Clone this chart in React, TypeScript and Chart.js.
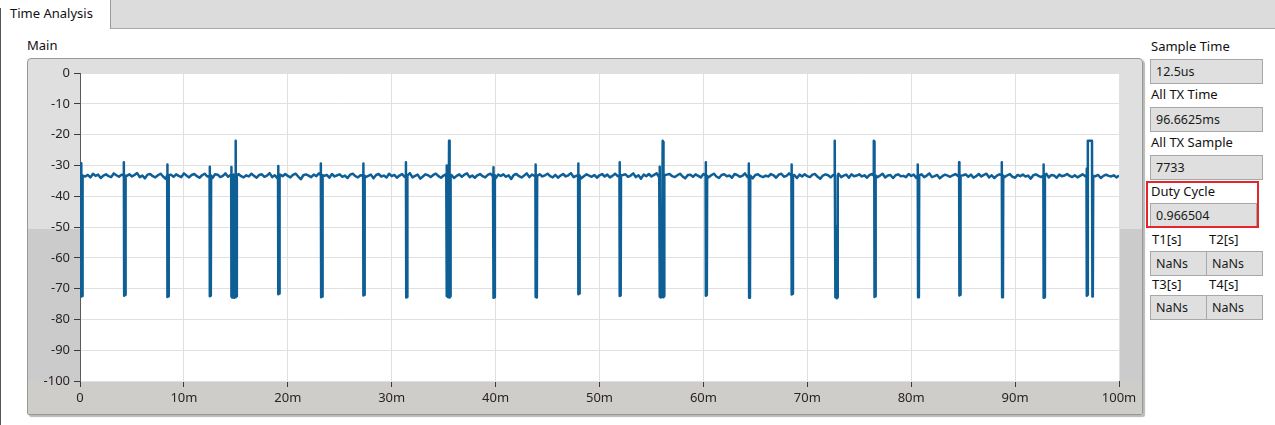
import React, { useEffect, useRef } from "react";
import { Chart, registerables } from "chart.js";

Chart.register(...registerables);

// ---- axis ticks ----
const xTickValuesMs = [0, 10, 20, 30, 40, 50, 60, 70, 80, 90, 100];
const xTickLabels = ["0", "10m", "20m", "30m", "40m", "50m", "60m", "70m", "80m", "90m", "100m"];
const yTickValues = [0, -10, -20, -30, -40, -50, -60, -70, -80, -90, -100];

// ---- baseline level (dB), one reading every 0.25 ms ----
const sampleStepMs = 0.25;
const baselineDb = [
  -33.2, -32.8, -33.6, -33.1, -33.9, -32.7, -33.4, -33.0, -34.1, -33.3, -32.9, -33.5, -33.8, -32.6, -33.2, -33.7, -33.0, -34.0, -33.4, -32.9,
  -33.6, -33.1, -32.5, -33.8, -33.3, -34.2, -33.0, -32.8, -33.5, -33.9, -33.2, -32.7, -33.6, -34.4, -33.1, -33.0, -33.7, -32.9, -33.4, -33.8,
  -32.6, -33.3, -33.9, -33.1, -32.8, -33.5, -34.0, -33.2, -32.7, -33.6, -33.3, -34.1, -32.9, -33.0, -33.8, -33.4, -32.6, -33.7, -33.1, -34.3,
  -33.0, -32.8, -33.5, -33.9, -33.2, -33.6, -32.7, -33.4, -34.0, -33.1, -32.9, -33.7, -33.3, -32.5, -33.8, -33.2, -34.2, -33.0, -33.5, -32.8,
  -33.4, -33.9, -33.1, -32.7, -33.6, -34.5, -33.2, -32.9, -33.3, -33.8, -33.0, -33.5, -32.6, -33.9, -33.4, -33.1, -34.0, -32.8, -33.6, -33.2,
  -32.9, -33.7, -33.3, -34.1, -33.0, -32.7, -33.5, -33.9, -33.2, -32.6, -33.8, -33.4, -33.0, -34.2, -33.1, -32.8, -33.6, -33.3, -33.9, -32.7,
  -33.5, -33.1, -34.0, -33.3, -32.8, -33.7, -33.2, -32.5, -33.9, -33.4, -33.0, -34.3, -33.6, -32.9, -33.2, -33.8, -33.1, -32.7, -33.5, -34.0,
  -33.3, -32.8, -33.6, -33.1, -34.1, -33.4, -32.9, -33.7, -33.0, -32.6, -33.8, -33.3, -34.0, -33.2, -32.8, -33.5, -33.9, -33.1, -32.7, -33.6,
  -34.2, -33.0, -33.4, -32.9, -33.7, -33.2, -34.4, -33.1, -32.8, -33.5, -33.9, -33.3, -32.6, -33.8, -33.0, -33.4, -34.1, -32.9, -33.6, -33.2,
  -32.7, -33.5, -33.9, -33.1, -34.0, -33.3, -32.8, -33.6, -33.2, -32.5, -33.8, -33.4, -33.0, -34.2, -33.5, -32.9, -33.3, -33.7, -33.1, -34.0,
  -33.2, -32.8, -33.6, -33.0, -33.9, -33.4, -32.7, -33.5, -34.1, -33.1, -32.9, -33.7, -33.3, -32.6, -33.8, -33.2, -34.3, -33.0, -33.5, -32.8,
  -33.6, -33.1, -32.6, -33.9, -33.3, -34.0, -33.0, -32.8, -33.5, -33.8, -33.2, -32.7, -33.6, -34.2, -33.1, -33.0, -33.7, -32.9, -33.4, -33.9,
  -32.8, -33.4, -33.9, -33.2, -32.7, -33.6, -34.1, -33.1, -32.9, -33.5, -33.3, -34.0, -32.8, -33.1, -33.7, -33.4, -32.6, -33.8, -33.0, -34.2,
  -33.1, -32.9, -33.5, -33.8, -33.3, -33.6, -32.8, -33.2, -34.0, -33.0, -32.7, -33.7, -33.4, -32.6, -33.9, -33.1, -34.1, -33.0, -33.6, -32.9,
  -33.5, -33.8, -33.0, -32.8, -33.7, -34.3, -33.3, -32.9, -33.2, -33.9, -33.1, -33.6, -32.7, -33.8, -33.3, -33.0, -34.0, -32.9, -33.5, -33.3,
  -32.9, -33.6, -33.2, -34.0, -33.1, -32.8, -33.6, -33.8, -33.3, -32.7, -33.9, -33.3, -33.1, -34.1, -33.2, -32.9, -33.5, -33.4, -33.8, -32.8,
  -33.4, -33.0, -34.1, -33.2, -32.9, -33.8, -33.3, -32.6, -33.8, -33.5, -33.1, -34.2, -33.5, -33.0, -33.3, -33.7, -33.2, -32.8, -33.4, -34.1,
  -33.2, -32.9, -33.7, -33.0, -34.0, -33.5, -32.8, -33.6, -33.1, -32.7, -33.9, -33.2, -34.1, -33.3, -32.9, -33.4, -33.8, -33.2, -32.8, -33.7,
  -34.0, -33.1, -33.5, -33.0, -33.6, -33.3, -34.3, -33.2, -32.9, -33.4, -33.8, -33.4, -32.7, -33.9, -33.1, -33.3, -34.0, -33.0, -33.5, -33.3,
  -32.8, -33.4, -33.8, -33.2, -33.9, -33.4, -32.9, -33.5, -33.3, -32.6, -33.7, -33.5, -33.1, -34.1, -33.4, -33.0, -33.4, -33.6, -33.2, -33.9,
  -33.3,
];

// ---- transmission gaps / bursts: key points (time in ms, level in dB) ----
const burstTimeMs = [
  [0.10, 0.11, 0.14, 0.22, 0.25],
  [4.21, 4.22, 4.25, 4.36, 4.39],
  [8.39, 8.40, 8.43, 8.51, 8.54],
  [12.47, 12.48, 12.51, 12.59, 12.62],
  [14.55, 14.56, 14.59, 14.66, 14.70, 14.78, 14.80, 14.84, 14.92, 14.97, 15.00, 15.03, 15.08, 15.11],
  [19.06, 19.07, 19.10, 19.18, 19.21],
  [23.17, 23.18, 23.21, 23.32, 23.35],
  [27.25, 27.26, 27.29, 27.37, 27.40],
  [31.36, 31.37, 31.40, 31.48, 31.51],
  [35.28, 35.29, 35.32, 35.38, 35.42, 35.45, 35.52, 35.56, 35.59, 35.64, 35.67],
  [39.78, 39.79, 39.82, 39.90, 39.93],
  [43.83, 43.84, 43.87, 43.97, 44.00],
  [47.94, 47.95, 47.98, 48.06, 48.09],
  [51.92, 51.93, 51.96, 52.04, 52.07],
  [55.78, 55.79, 55.82, 55.90, 55.95, 55.99, 56.08, 56.12, 56.16, 56.21, 56.24],
  [60.21, 60.22, 60.25, 60.33, 60.36],
  [64.36, 64.37, 64.40, 64.48, 64.51],
  [68.47, 68.48, 68.51, 68.59, 68.62],
  [72.61, 72.62, 72.66, 72.70, 72.76, 72.80, 72.84, 72.90, 72.93],
  [76.39, 76.40, 76.44, 76.47, 76.55, 76.58],
  [80.62, 80.63, 80.66, 80.74, 80.77],
  [84.60, 84.61, 84.64, 84.72, 84.75],
  [88.71, 88.72, 88.75, 88.83, 88.86],
  [92.72, 92.73, 92.76, 92.84, 92.87],
  [96.87, 96.88, 96.92, 96.96, 97.00, 97.40, 97.44, 97.48, 97.52],
];
const burstDb = [
  [-33.2, -29.3, -72.6, -72.4, -33.3],
  [-33.3, -29.0, -72.3, -72.0, -33.4],
  [-33.2, -29.7, -72.7, -72.5, -33.2],
  [-33.4, -30.4, -72.5, -72.3, -33.3],
  [-33.2, -30.5, -72.6, -72.9, -33.5, -33.0, -60.0, -73.0, -72.8, -22.0, -22.2, -72.5, -72.3, -33.4],
  [-33.3, -30.2, -71.8, -71.6, -33.3],
  [-33.2, -29.4, -72.8, -72.6, -33.2],
  [-33.3, -29.4, -72.2, -72.0, -33.4],
  [-33.2, -29.0, -72.9, -72.7, -33.3],
  [-33.3, -30.0, -72.4, -72.6, -40.0, -72.8, -22.0, -22.3, -72.9, -72.5, -33.3],
  [-33.2, -30.6, -73.0, -72.8, -33.2],
  [-33.3, -29.7, -72.7, -72.9, -33.4],
  [-33.2, -29.4, -71.8, -71.6, -33.3],
  [-33.3, -29.0, -72.4, -72.2, -33.2],
  [-33.2, -30.4, -72.6, -72.9, -45.0, -72.7, -22.0, -22.4, -72.8, -72.4, -33.2],
  [-33.3, -29.0, -72.3, -72.1, -33.4],
  [-33.2, -29.4, -73.0, -72.8, -33.3],
  [-33.3, -29.7, -71.9, -71.7, -33.2],
  [-33.2, -22.0, -22.3, -72.8, -72.9, -50.0, -73.1, -72.8, -33.3],
  [-33.3, -22.0, -22.2, -72.7, -72.5, -33.3],
  [-33.2, -29.7, -72.8, -72.6, -33.2],
  [-33.3, -29.0, -72.2, -72.0, -33.4],
  [-33.2, -29.0, -72.8, -72.6, -33.3],
  [-33.3, -29.7, -73.0, -72.8, -33.2],
  [-33.2, -31.0, -72.3, -72.0, -22.0, -22.0, -72.6, -72.4, -33.4],
];

// ---- side panel ----
const infoLabels = ["Sample Time", "All TX Time", "All TX Sample", "Duty Cycle"];
const infoValues = ["12.5us", "96.6625ms", "7733", "0.966504"];
const timeLabels = ["T1[s]", "T2[s]", "T3[s]", "T4[s]"];
const timeValues = ["NaNs", "NaNs", "NaNs", "NaNs"];

const FONT = '"Noto Sans", "DejaVu Sans", sans-serif';

function buildPoints() {
  const windows = burstTimeMs.map((b) => [b[0], b[b.length - 1]]);
  const pts: { x: number; y: number }[] = [];
  baselineDb.forEach((v, i) => {
    const t = i * sampleStepMs;
    if (!windows.some(([a, b]) => t > a - 0.02 && t < b + 0.02)) pts.push({ x: t, y: v });
  });
  burstTimeMs.forEach((b, j) => b.forEach((t, k) => pts.push({ x: t, y: burstDb[j][k] })));
  pts.sort((p, q) => p.x - q.x);
  return pts;
}

function GraphChart() {
  const ref = useRef<HTMLCanvasElement | null>(null);
  useEffect(() => {
    if (!ref.current) return;
    const bg = {
      id: "plotBg",
      beforeDraw(chart: any) {
        const { ctx, chartArea } = chart;
        ctx.save();
        ctx.fillStyle = "#ffffff";
        ctx.fillRect(chartArea.left, chartArea.top, chartArea.width, chartArea.height);
        ctx.restore();
      },
    };
    const chart = new Chart(ref.current, {
      type: "line",
      data: {
        datasets: [
          {
            data: buildPoints(),
            borderColor: "#0f5f97",
            borderWidth: 2.5,
            borderJoinStyle: "round",
            pointRadius: 0,
            tension: 0,
            fill: false,
          },
        ],
      },
      options: {
        animation: false,
        responsive: false,
        maintainAspectRatio: false,
        layout: { padding: { top: 15, right: 24, left: 0, bottom: 0 } },
        plugins: { legend: { display: false }, tooltip: { enabled: false } },
        scales: {
          x: {
            type: "linear",
            min: 0,
            max: 100,
            afterBuildTicks: (s: any) => {
              s.ticks = xTickValuesMs.map((v) => ({ value: v }));
            },
            afterFit: (s: any) => {
              s.height = 34;
            },
            ticks: {
              autoSkip: false,
              maxRotation: 0,
              padding: 3,
              color: "#2a2424",
              font: { family: FONT, size: 13 },
              callback: (v: any) => xTickLabels[xTickValuesMs.indexOf(Number(v))] ?? "",
            },
            grid: { color: "#e0e0e0", lineWidth: 1, tickColor: "#3a3a3a", tickLength: 6, drawTicks: true },
            border: { display: false },
          },
          y: {
            type: "linear",
            min: -100,
            max: 0,
            afterBuildTicks: (s: any) => {
              s.ticks = yTickValues.map((v) => ({ value: v }));
            },
            afterFit: (s: any) => {
              s.width = 53;
            },
            ticks: {
              autoSkip: false,
              padding: 4,
              color: "#2a2424",
              font: { family: FONT, size: 13 },
              callback: (v: any) => String(v),
            },
            grid: { color: "#e0e0e0", lineWidth: 1, tickColor: "#3a3a3a", tickLength: 6, drawTicks: true },
            border: { display: true, color: "#5a5a5a", width: 1 },
          },
        },
      },
      plugins: [bg],
    } as any);
    return () => chart.destroy();
  }, []);
  return (
    <canvas
      ref={ref}
      width={1116}
      height={357}
      style={{ position: "absolute", left: 27, top: 58, width: 1116, height: 357 }}
    />
  );
}

const labelStyle: React.CSSProperties = {
  position: "absolute",
  fontFamily: FONT,
  fontSize: 13,
  lineHeight: "15px",
  color: "#111",
  whiteSpace: "nowrap",
};

const boxStyle: React.CSSProperties = {
  position: "absolute",
  boxSizing: "border-box",
  background: "#dfdfdf",
  border: "1px solid #a8a8a8",
  fontFamily: FONT,
  fontSize: 12.5,
  lineHeight: "23px",
  paddingLeft: 5,
  color: "#1a1a1a",
  whiteSpace: "nowrap",
};

export default function App() {
  useEffect(() => {
    document.body.style.margin = "0";
  }, []);
  const infoTops = [39, 87, 135, 184];
  const boxTops = [59, 107, 155, 203];
  return (
    <div
      style={{
        position: "fixed",
        left: 0,
        top: 0,
        width: 1275,
        height: 425,
        background: "#ffffff",
        overflow: "hidden",
      }}
    >
      {/* tab strip */}
      <div
        style={{
          position: "absolute",
          left: 110,
          top: 0,
          width: 1165,
          height: 29,
          boxSizing: "border-box",
          background: "#dcdcdc",
          borderLeft: "1px solid #9a9a9a",
          borderBottom: "1px solid #a8a8a8",
        }}
      />
      <div style={{ position: "absolute", left: 0, top: 8, width: 1, height: 417, background: "#555" }} />
      <div style={{ ...labelStyle, left: 10, top: 6 }}>Time Analysis</div>

      {/* graph label */}
      <div style={{ ...labelStyle, left: 27, top: 38 }}>Main</div>

      {/* graph frame */}
      <div
        style={{
          position: "absolute",
          left: 27,
          top: 58,
          width: 1116,
          height: 357,
          boxSizing: "border-box",
          border: "1px solid #979797",
          borderRadius: "4px 4px 2px 2px",
          background: "linear-gradient(to bottom, #dfdfdf 0px, #dfdfdf 170px, #cbcbcb 170px, #cbcbcb 100%)",
          boxShadow: "2px 2px 1px #b9b9b9",
        }}
      />
      <div
        style={{
          position: "absolute",
          left: 28,
          top: 381,
          width: 1114,
          height: 33,
          background: "#cfcdca",
        }}
      />
      <GraphChart />

      {/* side panel */}
      {infoLabels.map((l, i) => (
        <React.Fragment key={l}>
          <div style={{ ...labelStyle, left: 1151, top: infoTops[i] }}>{l}</div>
          <div style={{ ...boxStyle, left: 1150, top: boxTops[i], width: i === 3 ? 107 : 113, height: 25 }}>
            {infoValues[i]}
          </div>
        </React.Fragment>
      ))}
      <div
        style={{
          position: "absolute",
          left: 1146,
          top: 181,
          width: 113,
          height: 47,
          boxSizing: "border-box",
          border: "2px solid #e3262b",
        }}
      />
      {timeLabels.map((l, i) => {
        const col = i % 2;
        const row = Math.floor(i / 2);
        return (
          <React.Fragment key={l}>
            <div style={{ ...labelStyle, left: col === 0 ? 1152 : 1209, top: row === 0 ? 232 : 277 }}>{l}</div>
            <div
              style={{
                ...boxStyle,
                left: col === 0 ? 1150 : 1206,
                top: row === 0 ? 251 : 295,
                width: 57,
                height: 25,
              }}
            >
              {timeValues[i]}
            </div>
          </React.Fragment>
        );
      })}
    </div>
  );
}
